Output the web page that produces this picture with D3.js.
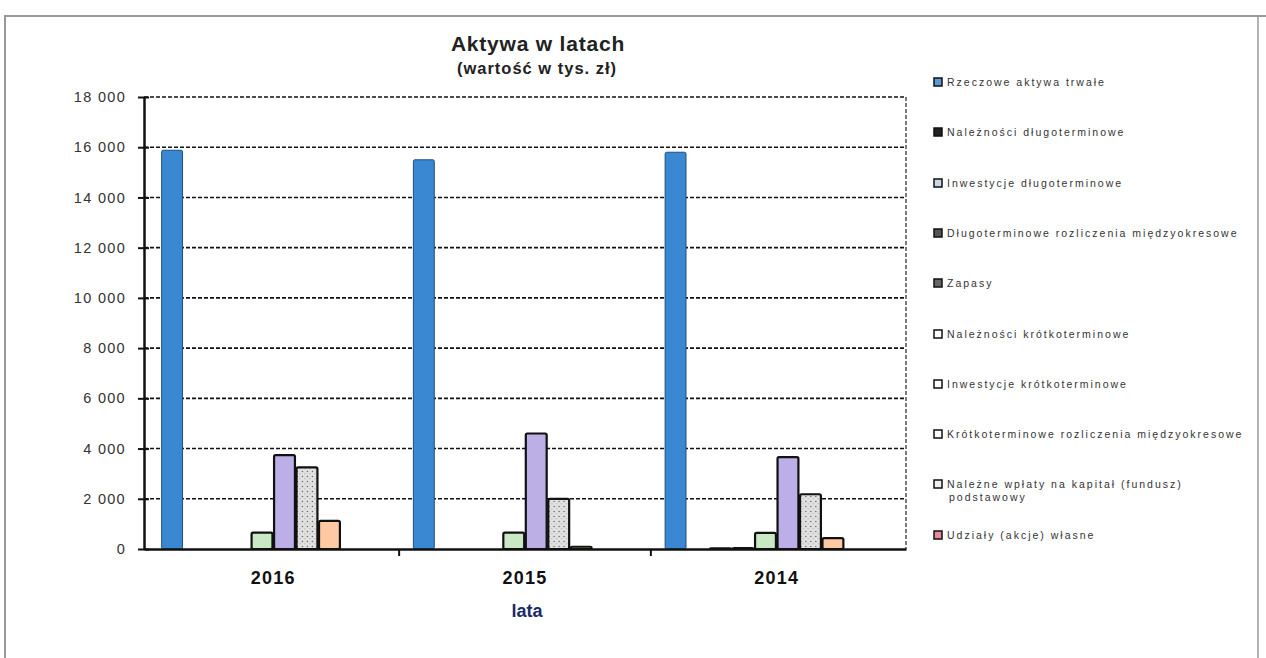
<!DOCTYPE html>
<html><head><meta charset="utf-8">
<script src="https://cdn.jsdelivr.net/npm/d3@7"></script>
<style>
html,body{margin:0;padding:0;background:#fff;}
svg{display:block;font-family:"Liberation Sans",Arial,sans-serif;}
</style></head>
<body><svg id="chart" width="1266" height="658"></svg>
<script>
const years = ["2016", "2015", "2014"];
const seriesNames = [
  "Rzeczowe aktywa trwałe",
  "Należności długoterminowe",
  "Inwestycje długoterminowe",
  "Długoterminowe rozliczenia międzyokresowe",
  "Zapasy",
  "Należności krótkoterminowe",
  "Inwestycje krótkoterminowe",
  "Krótkoterminowe rozliczenia międzyokresowe",
  "Należne wpłaty na kapitał (fundusz) podstawowy",
  "Udziały (akcje) własne"
];
const rzeczoweAktywa = [15880, 15500, 15800];
const naleznosciDl = [0, 0, 0];
const inwestycjeDl = [0, 0, 30];
const rozliczeniaDl = [0, 0, 40];
const zapasy = [650, 650, 640];
const naleznosciKr = [3740, 4600, 3660];
const inwestycjeKr = [3250, 2000, 2180];
const rozliczeniaKr = [1120, 90, 430];
const nalezneWplaty = [0, 0, 0];
const udzialy = [0, 0, 0];
const yTicks = [0, 2000, 4000, 6000, 8000, 10000, 12000, 14000, 16000, 18000];

const seriesValues = [rzeczoweAktywa, naleznosciDl, inwestycjeDl, rozliczeniaDl, zapasy,
  naleznosciKr, inwestycjeKr, rozliczeniaKr, nalezneWplaty, udzialy];
const colors = ["#3a88d2", "#2a2a2a", "#6fa0d8", "#333333", "#c9e8c4",
  "#bcaee6", "url(#dots)", "#ffc9a3", "#a9d6a0", "#e58a9a"];
const legendFill = ["#5a98d8", "#222", "#c8d8ea", "#555", "#666",
  "#fff", "#fff", "#fff", "#eee", "#e58a9a"];

const svg = d3.select("#chart");
const defs = svg.append("defs");
const pat = defs.append("pattern").attr("id", "dots").attr("patternUnits", "userSpaceOnUse")
  .attr("width", 5).attr("height", 5);
pat.append("rect").attr("width", 5).attr("height", 5).attr("fill", "#e2e2e2");
pat.append("circle").attr("cx", 1.5).attr("cy", 1.5).attr("r", 0.7).attr("fill", "#555");
pat.append("circle").attr("cx", 4).attr("cy", 3.8).attr("r", 0.5).attr("fill", "#888");

// outer frame
svg.append("path").attr("d", "M5,658 V16 H1266").attr("fill", "none").attr("stroke", "#999").attr("stroke-width", 2);
svg.append("line").attr("x1", 1258).attr("x2", 1258).attr("y1", 16).attr("y2", 658).attr("stroke", "#999").attr("stroke-width", 1.5);

const L = 144, R = 906, T = 97, B = 549;
const y = d3.scaleLinear().domain([0, 18000]).range([B, T]);
const x0 = d3.scaleBand().domain(years).range([L, R]).paddingInner(0.107).paddingOuter(0.067);
const x1 = d3.scaleBand().domain(d3.range(seriesNames.length)).range([0, x0.bandwidth()]);

// gridlines
svg.append("g").selectAll("line").data(yTicks.filter(d => d > 0)).join("line")
  .attr("x1", L).attr("x2", R).attr("y1", d => y(d)).attr("y2", d => y(d))
  .attr("stroke", "#111").attr("stroke-width", 1.6).attr("stroke-dasharray", "4,2");
svg.append("line").attr("x1", R).attr("x2", R).attr("y1", T).attr("y2", B)
  .attr("stroke", "#222").attr("stroke-width", 1.2).attr("stroke-dasharray", "4,2");

// bars
const groups = svg.append("g").selectAll("g").data(years).join("g")
  .attr("transform", d => `translate(${x0(d)},0)`);
groups.selectAll("rect").data((yr, i) => seriesValues.map((vals, s) => ({s, v: vals[i]})).filter(d => d.v > 0))
  .join("rect")
  .attr("x", d => x1(d.s) + 0.8).attr("width", x1.bandwidth() - 1.6)
  .attr("y", d => y(d.v)).attr("height", d => B - y(d.v))
  .attr("fill", d => colors[d.s])
  .attr("stroke", d => d.s === 0 ? "#1d4f80" : "#111")
  .attr("stroke-width", d => d.s === 0 ? 1 : 2.2)
  .attr("rx", 1.5);

// y axis
const yAxis = svg.append("g").attr("transform", `translate(${L},0)`)
  .call(d3.axisLeft(y).tickValues(yTicks).tickSizeInner(6).tickSizeOuter(0).tickPadding(12)
    .tickFormat(d => d3.format(",")(d).replace(/,/g, " ")));
yAxis.select(".domain").attr("stroke", "#111").attr("stroke-width", 2.5);
yAxis.selectAll(".tick line").attr("stroke", "#111").attr("stroke-width", 2).attr("x2", -6).attr("x1", 5);
yAxis.selectAll(".tick text").attr("font-size", 14.5).attr("fill", "#333").attr("letter-spacing", "1.3px")
  .attr("font-family", "'Liberation Sans',Arial,sans-serif");

// x axis
const xAxis = svg.append("g").attr("transform", `translate(0,${B})`)
  .call(d3.axisBottom(x0).tickSize(0).tickPadding(22));
xAxis.select(".domain").attr("stroke", "#111").attr("stroke-width", 2.5);
xAxis.selectAll(".tick text").attr("font-size", 18).attr("font-weight", "bold").attr("fill", "#111")
  .attr("letter-spacing", "1.2px").attr("font-family", "'Liberation Sans',Arial,sans-serif");
const bounds = years.slice(0, -1).map((d) => x0(d) + x0.step() - (x0.step() - x0.bandwidth()) / 2);
svg.append("g").selectAll("line").data(bounds).join("line")
  .attr("x1", d => d).attr("x2", d => d).attr("y1", B).attr("y2", B + 7)
  .attr("stroke", "#111").attr("stroke-width", 2);

// titles
svg.append("text").attr("x", 538).attr("y", 51).attr("text-anchor", "middle")
  .attr("font-size", 21).attr("font-weight", "bold").attr("fill", "#222").attr("letter-spacing", "0.8px").text("Aktywa w latach");
svg.append("text").attr("x", 537).attr("y", 74).attr("text-anchor", "middle")
  .attr("font-size", 16.5).attr("font-weight", "bold").attr("fill", "#222").attr("letter-spacing", "1px").text("(wartość w tys. zł)");
svg.append("text").attr("x", 527).attr("y", 617).attr("text-anchor", "middle")
  .attr("font-size", 18).attr("font-weight", "bold").attr("fill", "#1b2a6b").text("lata");

// legend
const legY = [82, 132, 183, 233, 283, 334, 384, 434, 484, 535];
const leg = svg.append("g").selectAll("g").data(seriesNames).join("g")
  .attr("transform", (d, i) => `translate(934,${legY[i]})`);
leg.append("rect").attr("x", 0).attr("y", -4).attr("width", 8).attr("height", 8)
  .attr("fill", (d, i) => legendFill[i]).attr("stroke", "#111").attr("stroke-width", 1.5);
leg.each(function(d, i) {
  const g = d3.select(this);
  const t = g.append("text").attr("x", 13).attr("y", 4).attr("font-size", 10.5)
    .attr("letter-spacing", "2px").attr("fill", "#333");
  if (i === 8) {
    t.append("tspan").attr("x", 13).text("Należne wpłaty na kapitał (fundusz)");
    t.append("tspan").attr("x", 15).attr("dy", 13).text("podstawowy");
  } else {
    t.text(d);
  }
});
</script>
</body></html>
